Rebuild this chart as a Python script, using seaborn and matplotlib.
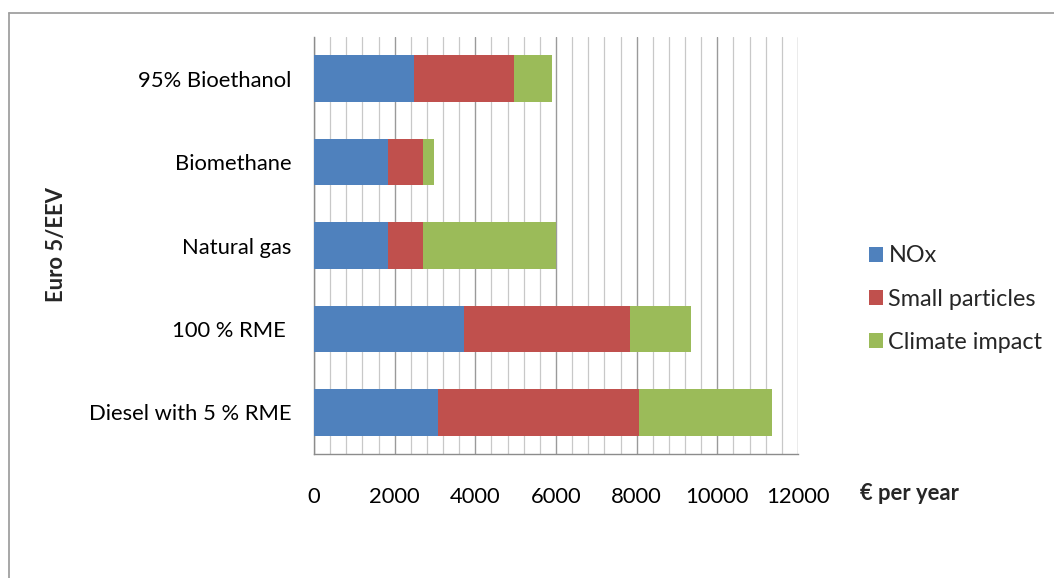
import matplotlib
matplotlib.use("Agg")
import matplotlib.pyplot as plt
from matplotlib.lines import Line2D
from matplotlib.patches import Patch
from matplotlib.ticker import MultipleLocator
import numpy as np
import pandas as pd
import seaborn as sns

# Annual external cost per vehicle type (EUR per year)
fuels = ["95% Bioethanol", "Biomethane", "Natural gas", "100 % RME ", "Diesel with 5 % RME"]
nox = [2480, 1840, 1840, 3720, 3080]
small_particles = [2480, 855, 855, 4120, 4990]
climate_impact = [940, 290, 3300, 1500, 3290]

series_names = ["NOx", "Small particles", "Climate impact"]
series_colors = ["#4F81BD", "#C0504D", "#9BBB59"]
x_ticks = [0, 2000, 4000, 6000, 8000, 10000, 12000]

sns.set_theme(style="white")
plt.rcParams["font.family"] = ["Lato", "DejaVu Sans"]

fig = plt.figure(figsize=(10.54, 5.78), dpi=100)
ax = fig.add_axes([314 / 1054, 1 - 454 / 578, 484 / 1054, 417 / 578])

df = pd.DataFrame({"fuel": fuels, "NOx": nox,
                   "Small particles": small_particles,
                   "Climate impact": climate_impact})
cum = df[series_names].cumsum(axis=1)

# stacked bars: draw cumulative totals from the outermost layer inwards
for name, color in reversed(list(zip(series_names, series_colors))):
    sns.barplot(x=cum[name], y=df["fuel"], orient="h", color=color,
                saturation=1, width=0.56, ax=ax, zorder=3, linewidth=0)

ax.set_xlim(0, 12000)
ax.set_ylim(4.5, -0.5)
ax.xaxis.set_major_locator(MultipleLocator(2000))
ax.xaxis.set_minor_locator(MultipleLocator(400))
ax.set_xticks(x_ticks)
ax.set_xticklabels([str(v) for v in x_ticks])
ax.grid(axis="x", which="minor", color="#C8C8C8", linewidth=0.9, zorder=0)
ax.grid(axis="x", which="major", color="#9A9A9A", linewidth=1.0, zorder=0)
ax.set_axisbelow(True)

for side in ["top", "right"]:
    ax.spines[side].set_visible(False)
ax.spines["left"].set_color("#8C8C8C")
ax.spines["bottom"].set_color("#8C8C8C")
ax.spines["left"].set_linewidth(1.0)
ax.spines["bottom"].set_linewidth(1.0)

tick_fs = 15.8
ax.tick_params(axis="x", which="major", direction="out", length=5, width=1,
               color="#8C8C8C", pad=19, labelsize=tick_fs, labelcolor="black")
ax.tick_params(axis="x", which="minor", length=0)
ax.tick_params(axis="y", length=0, pad=16, labelsize=tick_fs, labelcolor="black")
ax.set_xlabel("")
ax.set_ylabel("")

fig.text(860 / 1054, 1 - 494 / 578, "€ per year", fontsize=tick_fs,
         fontweight="bold", ha="left", va="center")
fig.text(57 / 1054, 1 - 245 / 578, "Euro 5/EEV", fontsize=tick_fs,
         fontweight="bold", rotation=90, ha="center", va="center")

handles = [Patch(facecolor=c, edgecolor="none") for c in series_colors]
fig.legend(handles, series_names, loc="center left",
           bbox_to_anchor=(857 / 1054, 1 - 299 / 578), frameon=False,
           fontsize=16.8, handlelength=0.6, handleheight=0.6,
           handletextpad=0.25, labelspacing=0.95, borderpad=0)

# outer chart border
fig.add_artist(Line2D([9 / 1054, 1.0], [1 - 13 / 578, 1 - 13 / 578],
                      transform=fig.transFigure, color="#A0A0A0", linewidth=1.3))
fig.add_artist(Line2D([9 / 1054, 9 / 1054], [0.0, 1 - 13 / 578],
                      transform=fig.transFigure, color="#A0A0A0", linewidth=1.3))

fig.savefig("out.png", dpi=100)
